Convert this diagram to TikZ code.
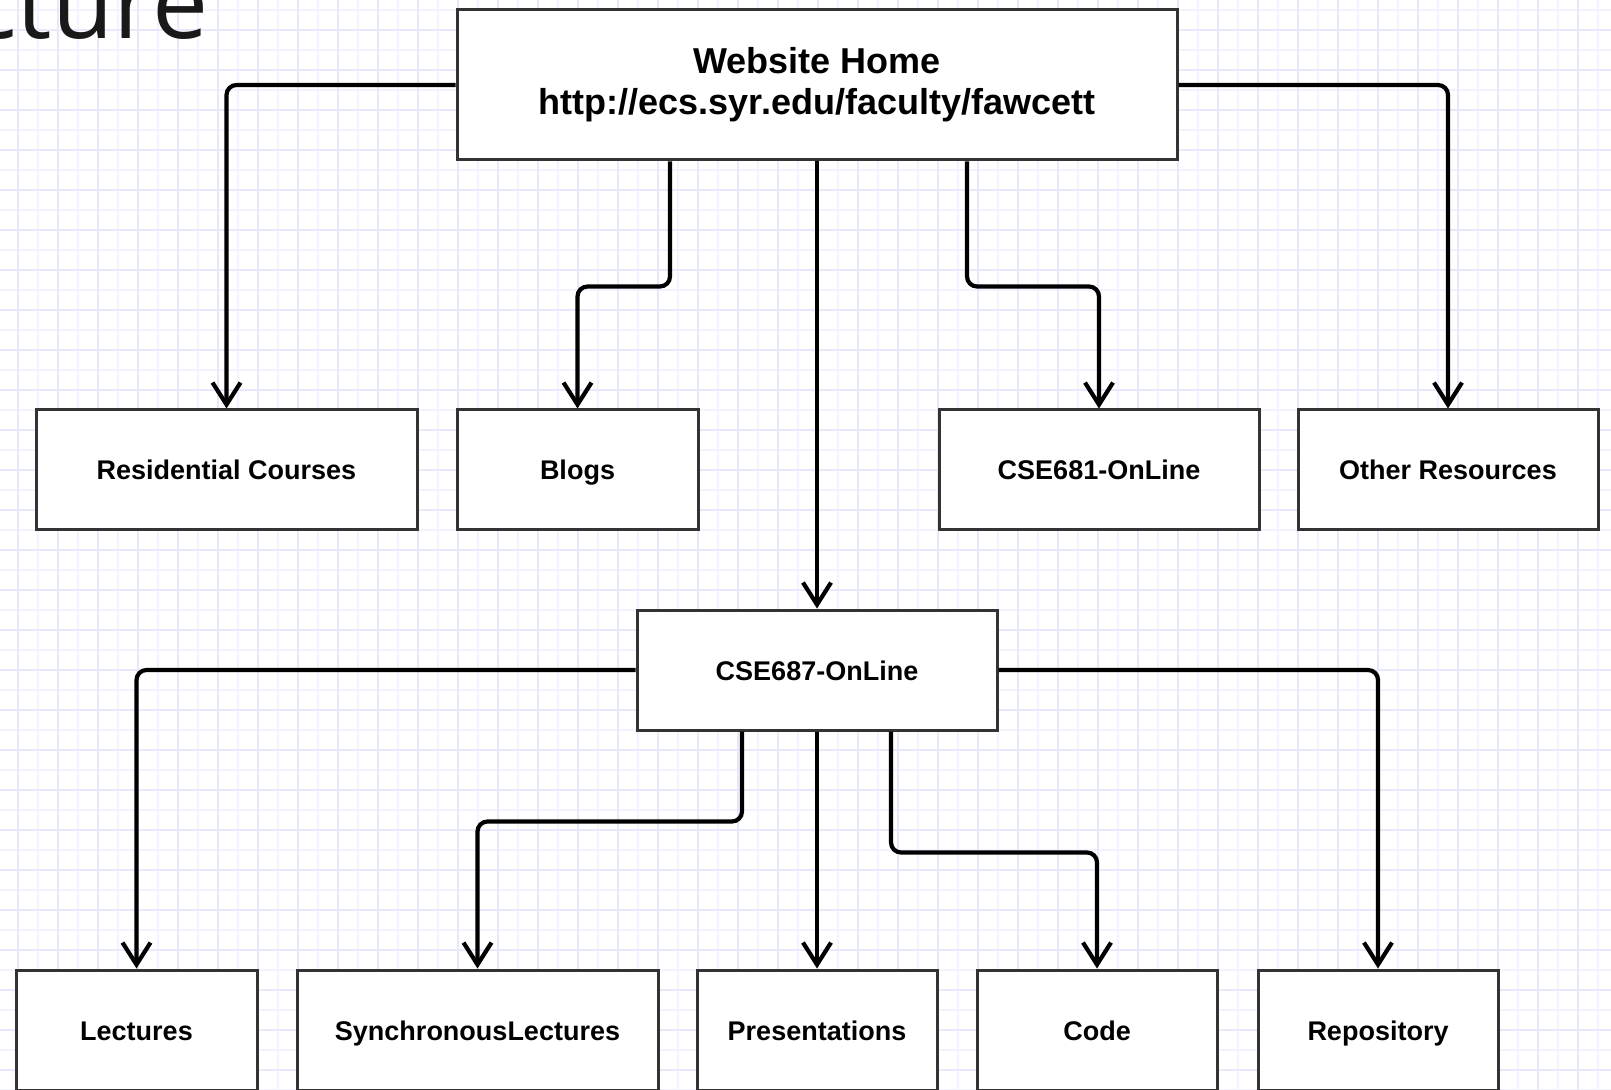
\documentclass[tikz,border=0pt]{standalone}
\usepackage{fontspec}
\setsansfont{Liberation Sans}
\newfontfamily\titlefont{Open Sans}
\usetikzlibrary{arrows.meta,calc}
\definecolor{gridminor}{RGB}{243,243,255}
\definecolor{gridmajor}{RGB}{232,232,253}
\definecolor{boxline}{RGB}{51,51,51}
\tikzset{
	page/.style={x=0.5pt,y=-0.5pt},
	box/.style={draw=boxline, line width=1.5pt, fill=white, inner sep=0pt,
		minimum height=60pt, text height=11.5pt, text depth=1.5pt,
		font=\sffamily\bfseries\fontsize{13.5}{16}\selectfont},
	boxw/.style={minimum width=#1*0.5pt},
	link/.style={line width=2.1pt, rounded corners=5pt,
		-{Straight Barb[length=11pt,width=14pt,line width=2.1pt]}}
}

\begin{document}
\begin{tikzpicture}[page]
	\useasboundingbox (0,0) rectangle (1611,1090);
	\clip (0,0) rectangle (1611,1090);
	\fill[white] (0,0) rectangle (1611,1090);
	% background grid
	\foreach \gx in {18,38,...,1610} \draw[gridminor, line width=0.6pt] (\gx,0) -- (\gx,1090);
	\foreach \gy in {10,30,...,1090} \draw[gridminor, line width=0.6pt] (0,\gy) -- (1611,\gy);
	\foreach \gx in {18,58,...,1610} \draw[gridmajor, line width=0.6pt] (\gx,0) -- (\gx,1090);
	\foreach \gy in {30,70,...,1090} \draw[gridmajor, line width=0.6pt] (0,\gy) -- (1611,\gy);
	
	\node[anchor=base east, inner sep=0pt, text=black!90,
		font=\titlefont\fontsize{50}{50}\selectfont] (title) at (209,39) {cture};
	
	% top level
	\node[box, boxw=720, minimum height=75pt, align=center, text height=, text depth=,
		font=\sffamily\bfseries\fontsize{18}{20.5}\selectfont] (home) at (817,85)
		{Website Home\\http://ecs.syr.edu/faculty/fawcett};
	
	\node[box, boxw=381] (res) at (226.5,470) {Residential Courses};
	\node[box, boxw=241] (blogs) at (577.5,470) {Blogs};
	\node[box, boxw=320] (c681) at (1099,470) {CSE681-OnLine};
	\node[box, boxw=300] (other) at (1448,470) {Other Resources};
	
	\node[box, boxw=360] (c687) at (817,670) {CSE687-OnLine};
	
	% course pages
	\node[box, boxw=241] (lect) at (136.5,1030) {Lectures};
	\node[box, boxw=361] (sync) at (477.5,1030) {SynchronousLectures};
	\node[box, boxw=240] (pres) at (817,1030) {Presentations};
	\node[box, boxw=240] (code) at (1097,1030) {Code};
	\node[box, boxw=240] (repo) at (1378,1030) {Repository};
	
	\draw[link] (home.west) -| (res.north);
	\draw[link] ($(home.south)+(-147,0)$) -- ++(0,125) -| (blogs.north);
	\draw[link] (home.south) -- (c687.north);
	\draw[link] ($(home.south)+(150,0)$) -- ++(0,125) -| (c681.north);
	\draw[link] (home.east) -| (other.north);
	
	\draw[link] (c687.west) -| (lect.north);
	\draw[link] ($(c687.south)+(-75,0)$) -- ++(0,90) -| (sync.north);
	\draw[link] (c687.south) -- (pres.north);
	\draw[link] ($(c687.south)+(74,0)$) -- ++(0,121) -| (code.north);
	\draw[link] (c687.east) -| (repo.north);
\end{tikzpicture}
\end{document}
